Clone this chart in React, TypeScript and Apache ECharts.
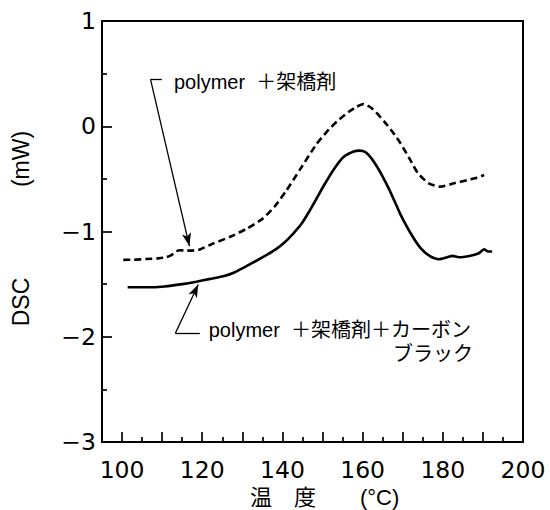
import React, { useEffect, useRef } from 'react';
import * as echarts from 'echarts';

// Temperature (°C) / DSC (mW) readings
const dashedT = [100.3, 103, 106, 109, 111, 112.3, 113.2, 114.2, 115.5, 117, 119.4, 122.8, 127, 131, 135, 138, 141, 144.4, 148.4, 151, 153.6, 156.5, 158.5, 160.2, 162.5, 165.5, 167.5, 169.5, 171.8, 173.8, 176.5, 179.3, 182.8, 186.1, 188.5, 190.3];
const dashedV = [-1.27, -1.268, -1.262, -1.255, -1.245, -1.225, -1.2, -1.178, -1.18, -1.182, -1.17, -1.113, -1.05, -0.975, -0.88, -0.765, -0.61, -0.41, -0.175, -0.055, 0.045, 0.135, 0.185, 0.21, 0.165, 0.04, -0.055, -0.165, -0.315, -0.447, -0.542, -0.574, -0.542, -0.511, -0.49, -0.463];

const solidT = [101.4, 106, 110.6, 115, 118.5, 122, 125.5, 128, 130.8, 133.5, 136.1, 138.5, 140.5, 142.7, 144.8, 146.6, 148.4, 150.3, 152.8, 155.3, 157.8, 159.2, 160.7, 162.2, 163.6, 165, 166.5, 168, 169.4, 171.9, 174.4, 176.9, 179, 181.1, 182.4, 184, 186.9, 189, 190.3, 191.3, 192.3];
const solidV = [-1.53, -1.53, -1.522, -1.5, -1.477, -1.45, -1.423, -1.39, -1.334, -1.278, -1.222, -1.165, -1.105, -1.02, -0.925, -0.815, -0.695, -0.565, -0.41, -0.29, -0.24, -0.232, -0.245, -0.305, -0.385, -0.478, -0.59, -0.715, -0.835, -1.012, -1.155, -1.237, -1.264, -1.245, -1.232, -1.245, -1.23, -1.207, -1.169, -1.19, -1.19];

const seriesNames = ['polymer＋架橋剤', 'polymer＋架橋剤＋カーボンブラック'];

const xMajorTicks = [100, 110, 120, 130, 140, 150, 160, 170, 180, 190, 200];
const xMinorTicks = [105, 115, 125, 135, 145, 155, 165, 175, 185, 195];
const xLabelValues = [100, 120, 140, 160, 180, 200];

// annotation leader lines (data coordinates)
const leader1Corner = [107.1, 0.446];
const leader1End = [109.9, 0.446];
const leader1Tip = [116.8, -1.138];
const leader2Corner = [113.3, -1.967];
const leader2End = [119.4, -1.967];
const leader2Tip = [119.0, -1.504];

const label1 = 'polymer  ＋架橋剤';
const label2a = 'polymer  ＋架橋剤＋カーボン';
const label2b = 'ブラック';
const xTitle = '温　度　　(°C)';
const yTitleA = 'DSC';
const yTitleB = '(mW)';

const zip = (a: number[], b: number[]) => a.map((v, i) => [v, b[i]]);

export default function App() {
  const ref = useRef<HTMLDivElement>(null);
  useEffect(() => {
    document.body.style.margin = '0';
    const chart = echarts.init(ref.current as HTMLDivElement, null, { renderer: 'svg' });
    const black = '#000';
    const latin = 'Liberation Sans, Arial, sans-serif';
    const mixed = 'Liberation Sans, Noto Sans CJK JP, sans-serif';
    const tickFont = 'DejaVu Sans';
    const tickLine = { color: black, width: 1.7 };
    chart.setOption({
      animation: false,
      backgroundColor: '#fff',
      grid: {
        left: 102, right: 27, top: 21, bottom: 68,
        show: true, borderColor: black, borderWidth: 2, backgroundColor: 'transparent',
      },
      xAxis: [
        {
          type: 'value', min: 95, max: 200, position: 'bottom',
          axisLine: { show: true, onZero: false, lineStyle: { color: black, width: 2 } },
          axisTick: { show: true, inside: true, length: 10, customValues: xMajorTicks, lineStyle: tickLine },
          axisLabel: { show: true, customValues: xLabelValues, margin: 16, color: black, fontSize: 23.5, fontFamily: tickFont },
          splitLine: { show: false },
        },
        {
          type: 'value', min: 95, max: 200, position: 'bottom',
          axisLine: { show: false, onZero: false },
          axisTick: { show: true, inside: true, length: 5, customValues: xMinorTicks, lineStyle: tickLine },
          axisLabel: { show: false },
          splitLine: { show: false },
        },
      ],
      yAxis: {
        type: 'value', min: -3, max: 1, interval: 1,
        axisLine: { show: true, onZero: false, lineStyle: { color: black, width: 2 } },
        axisTick: { show: true, inside: true, length: 10, lineStyle: tickLine },
        minorTick: { show: true, splitNumber: 2, length: 5, lineStyle: tickLine },
        axisLabel: {
          margin: 6, color: black, fontSize: 23.5, fontFamily: tickFont,
          formatter: (v: number) => String(v).replace('-', '\u2212'),
        },
        splitLine: { show: false },
        minorSplitLine: { show: false },
      },
      series: [
        {
          name: seriesNames[0], type: 'line', xAxisIndex: 0,
          data: zip(dashedT, dashedV), showSymbol: false, symbol: 'none',
          smooth: 0.2,
          lineStyle: { color: black, width: 2.6, type: [7, 4] },
        },
        {
          name: seriesNames[1], type: 'line', xAxisIndex: 0,
          data: zip(solidT, solidV), showSymbol: false, symbol: 'none',
          smooth: 0.2,
          lineStyle: { color: black, width: 2.6, type: 'solid' },
          markLine: {
            silent: true, animation: false,
            symbol: ['none', 'none'],
            label: { show: false },
            lineStyle: { color: black, width: 1.3, type: 'solid' },
            emphasis: { disabled: true },
            data: [
              [{ coord: leader1Corner, symbol: 'none' }, { coord: leader1End, symbol: 'none' }],
              [{ coord: leader1Corner, symbol: 'none' }, { coord: leader1Tip, symbol: 'arrow', symbolSize: [7, 13] }],
              [{ coord: leader2Corner, symbol: 'none' }, { coord: leader2End, symbol: 'none' }],
              [{ coord: leader2Corner, symbol: 'none' }, { coord: leader2Tip, symbol: 'arrow', symbolSize: [7, 13] }],
            ],
          },
        },
      ],
      graphic: [
        { type: 'text', x: 174, y: 82, style: { text: label1, fontSize: 20, fontFamily: mixed, fill: black, align: 'left', verticalAlign: 'middle' } },
        { type: 'text', x: 471, y: 330, style: { text: label2a, fontSize: 20, fontFamily: mixed, fill: black, align: 'right', verticalAlign: 'middle' } },
        { type: 'text', x: 473, y: 354, style: { text: label2b, fontSize: 20, fontFamily: mixed, fill: black, align: 'right', verticalAlign: 'middle' } },
        { type: 'text', x: 250, y: 497, style: { text: xTitle, fontSize: 22, fontFamily: mixed, fill: black, align: 'left', verticalAlign: 'middle' } },
        { type: 'text', x: 21, y: 302, rotation: Math.PI / 2, style: { text: yTitleA, fontSize: 23, fontFamily: latin, fill: black, align: 'center', verticalAlign: 'middle' } },
        { type: 'text', x: 21, y: 159, rotation: Math.PI / 2, style: { text: yTitleB, fontSize: 23, fontFamily: latin, fill: black, align: 'center', verticalAlign: 'middle' } },
      ],
    });
    return () => chart.dispose();
  }, []);
  return <div ref={ref} style={{ width: 550, height: 510 }} />;
}
